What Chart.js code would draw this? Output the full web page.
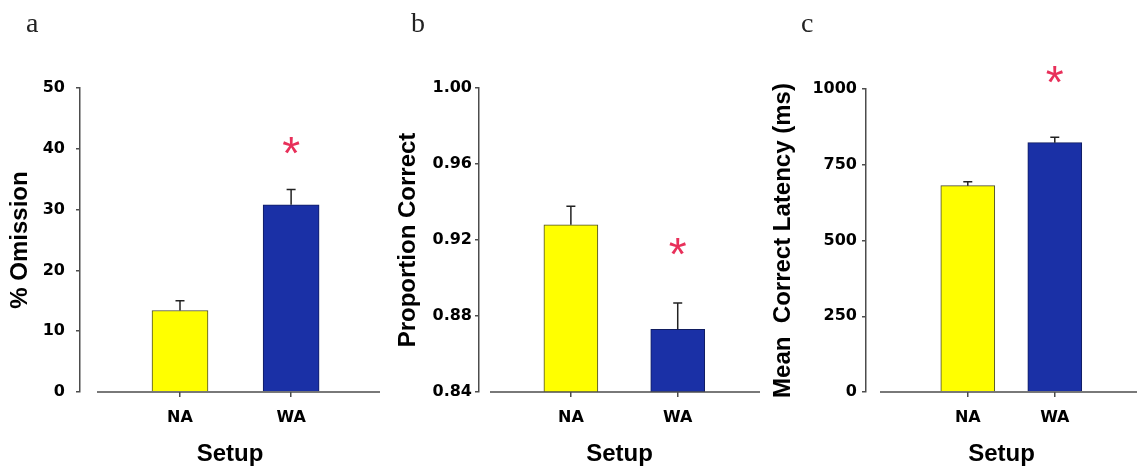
<!DOCTYPE html>
<html>
<head>
<meta charset="utf-8" />
<title>Omission, accuracy and latency by setup</title>
<script src="https://cdn.jsdelivr.net/npm/chart.js"></script>
<style>
  body, html { margin: 0; padding: 0; background: #ffffff; }
  #wrap { position: relative; width: 1137px; height: 469px; overflow: hidden; background: #fff; }
  canvas { position: absolute; top: 0; }
  .letter { position: absolute; top: 9px; line-height: 28px; font-family: "Liberation Serif", serif; font-size: 28px; color: #222; }
</style>
</head>
<body>
<div id="wrap">
  <canvas id="chartA" width="380" height="469" style="left:0"></canvas>
  <canvas id="chartB" width="380" height="469" style="left:380px"></canvas>
  <canvas id="chartC" width="377" height="469" style="left:760px"></canvas>
  <div class="letter" style="left:26px">a</div>
  <div class="letter" style="left:411px">b</div>
  <div class="letter" style="left:801px">c</div>
</div>
<script>
  const categories = ['NA', 'WA'];

  // panel a
  const omissionMean = [13.4, 30.8];
  const omissionSem = [1.6, 2.5];
  const omissionStar = [null, 40.5];
  const omissionTicks = [0, 10, 20, 30, 40, 50];

  // panel b
  const correctMean = [0.928, 0.873];
  const correctSem = [0.0098, 0.0139];
  const correctStar = [null, 0.9165];
  const correctTicks = [0.84, 0.88, 0.92, 0.96, 1.00];

  // panel c
  const latencyMean = [681, 823];
  const latencySem = [13, 18];
  const latencyStar = [null, 1047];
  const latencyTicks = [0, 250, 500, 750, 1000];

  const barColors = ['#ffff00', '#1a30a6'];
  const barBorders = ['#4a4a30', '#101c60'];
  const axisColor = '#4d4d4d';
  const tickFont = { family: 'DejaVu Sans', size: 16, weight: 'bold' };
  const titleFont = { family: 'Liberation Sans', size: 24, weight: 'bold' };

  // error bars, stars and the detached x baseline
  const setupMarks = {
    id: 'setupMarks',
    afterDatasetsDraw(chart, args, opts) {
      const ctx = chart.ctx;
      const y = chart.scales.y;
      const area = chart.chartArea;
      const bars = chart.getDatasetMeta(0).data;
      const y0 = y.getPixelForValue(y.min);
      ctx.save();
      ctx.strokeStyle = axisColor;
      ctx.lineWidth = 1.5;
      ctx.beginPath();
      ctx.moveTo(area.left + opts.gap, y0);
      ctx.lineTo(area.right, y0);
      ctx.stroke();

      ctx.strokeStyle = '#222222';
      ctx.lineWidth = 1.5;
      bars.forEach((bar, i) => {
        const m = opts.mean[i];
        const top = y.getPixelForValue(m + opts.sem[i]);
        ctx.beginPath();
        ctx.moveTo(bar.x, y.getPixelForValue(m));
        ctx.lineTo(bar.x, top);
        ctx.moveTo(bar.x - 4.5, top);
        ctx.lineTo(bar.x + 4.5, top);
        ctx.stroke();
      });

      ctx.fillStyle = '#e8305a';
      ctx.font = '46px "Liberation Sans"';
      ctx.textAlign = 'center';
      ctx.textBaseline = 'alphabetic';
      bars.forEach((bar, i) => {
        if (opts.star[i] == null) return;
        const mt = ctx.measureText('*');
        const mid = (mt.actualBoundingBoxAscent - mt.actualBoundingBoxDescent) / 2;
        ctx.fillText('*', bar.x, y.getPixelForValue(opts.star[i]) + mid);
      });
      ctx.restore();
    }
  };

  function makePanel(id, p) {
    const ctx = document.getElementById(id).getContext('2d');
    return new Chart(ctx, {
      type: 'bar',
      data: {
        datasets: [{
          data: p.mean.map((v, i) => ({ x: i + 1, y: v })),
          backgroundColor: barColors,
          borderColor: barBorders,
          borderWidth: 1,
          barThickness: p.barWidth
        }]
      },
      options: {
        responsive: false,
        animation: false,
        layout: { padding: { top: p.top, left: 0, right: 0, bottom: 0 } },
        scales: {
          x: {
            type: 'linear',
            offset: false,
            min: p.xMin,
            max: p.xMax,
            afterBuildTicks: s => { s.ticks = categories.map((c, i) => ({ value: i + 1 })); },
            afterFit: s => { s.height = 77; },
            ticks: {
              color: '#000000',
              font: tickFont,
              padding: 11,
              autoSkip: false,
              maxRotation: 0,
              callback: (v, i) => categories[i]
            },
            grid: { offset: false, drawOnChartArea: false, drawTicks: true, tickLength: 5, color: axisColor, lineWidth: 1.5 },
            border: { display: false },
            title: { display: true, text: 'Setup', color: '#000000', font: titleFont, padding: { top: 6, bottom: 0 } }
          },
          y: {
            min: p.ticks[0],
            max: p.ticks[p.ticks.length - 1],
            afterBuildTicks: s => { s.ticks = p.ticks.map(v => ({ value: v })); },
            afterFit: s => { s.width = p.axisX; },
            ticks: {
              color: '#000000',
              font: tickFont,
              padding: p.labelPad,
              callback: (v, i) => p.ticks[i].toFixed(p.decimals)
            },
            grid: { drawOnChartArea: false, drawTicks: true, tickLength: 4, color: axisColor, lineWidth: 1.5 },
            border: { display: true, color: axisColor, width: 1.5 },
            title: { display: true, text: p.title, color: '#000000', font: titleFont, padding: { top: p.titlePad, bottom: 0 } }
          }
        },
        plugins: {
          legend: { display: false },
          tooltip: { enabled: false },
          setupMarks: { mean: p.mean, sem: p.sem, star: p.star, gap: p.gap }
        }
      },
      plugins: [setupMarks]
    });
  }

  makePanel('chartA', {
    mean: omissionMean, sem: omissionSem, star: omissionStar, ticks: omissionTicks, decimals: 0,
    title: '% Omission', top: 88, axisX: 80, labelPad: 11, titlePad: 5.6,
    xMin: 0.1, xMax: 2.8, barWidth: 56, gap: 17
  });
  makePanel('chartB', {
    mean: correctMean, sem: correctSem, star: correctStar, ticks: correctTicks, decimals: 2,
    title: 'Proportion Correct', top: 88, axisX: 99, labelPad: 3, titlePad: 13.6,
    xMin: 0.14, xMax: 2.77, barWidth: 54, gap: 11
  });
  makePanel('chartC', {
    mean: latencyMean, sem: latencySem, star: latencyStar, ticks: latencyTicks, decimals: 0,
    title: 'Mean  Correct Latency (ms)', top: 89, axisX: 106, labelPad: 5, titlePad: 8.6,
    xMin: -0.17, xMax: 2.945, barWidth: 54, gap: 14
  });
</script>
</body>
</html>
